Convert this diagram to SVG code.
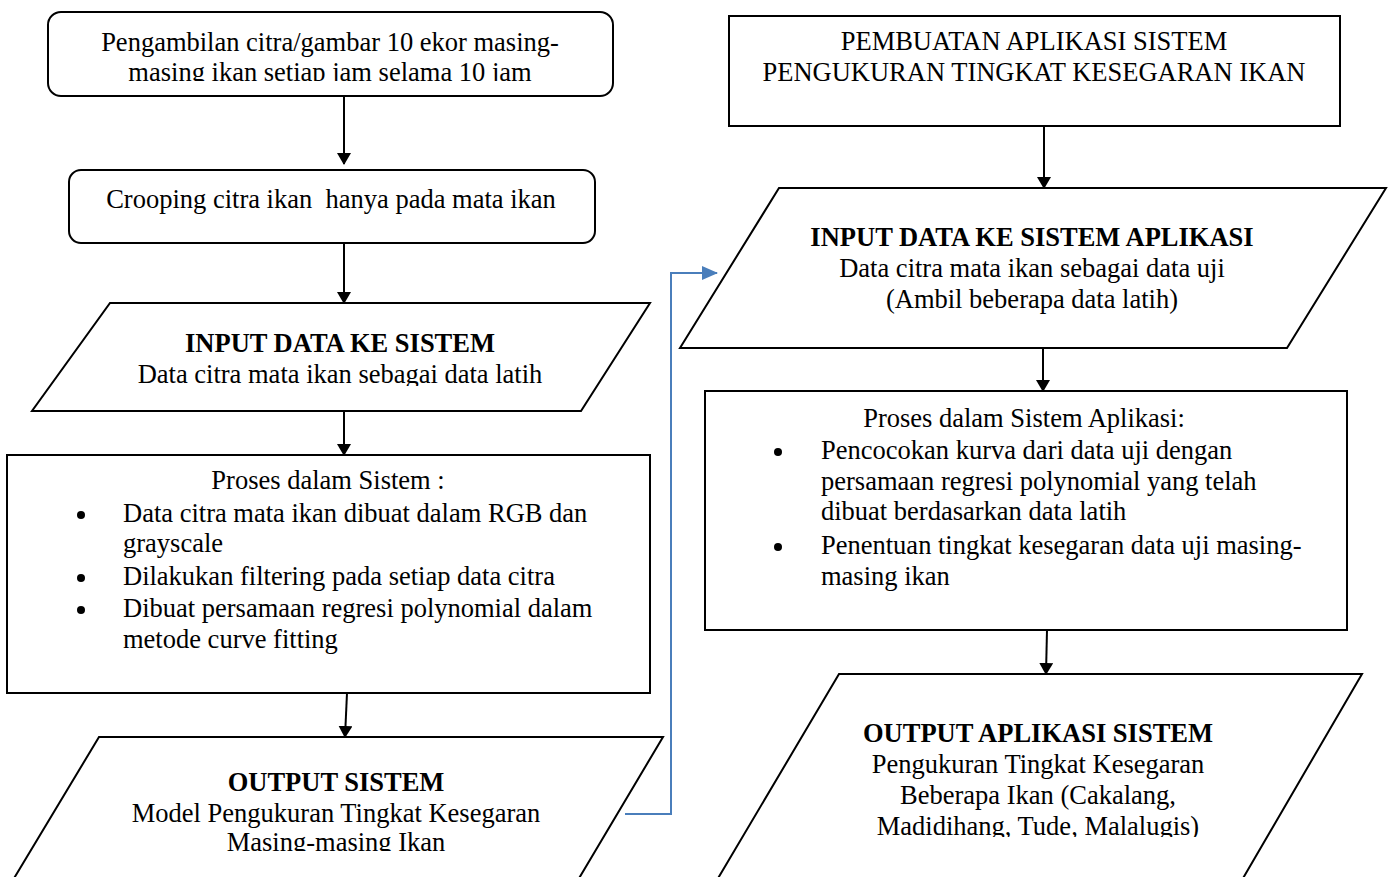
<svg xmlns="http://www.w3.org/2000/svg" width="1392" height="877" viewBox="0 0 1392 877">
<style>
.s{fill:#fff;stroke:#000;stroke-width:2}
.t{font-family:"Liberation Serif","Times New Roman",serif;font-size:26.5px;fill:#000}
.c{text-anchor:middle}
.b{font-weight:bold}
.ln{stroke:#000;stroke-width:2;fill:none}
.bl{stroke:#4a7ebb;stroke-width:2;fill:none}
</style>
<defs>
<marker id="ah" markerWidth="12" markerHeight="14" refX="11" refY="7" orient="auto" markerUnits="userSpaceOnUse"><path d="M0,0 L12,7 L0,14 Z" fill="#000"/></marker>
<marker id="ahb" markerWidth="16" markerHeight="14" refX="15" refY="7" orient="auto" markerUnits="userSpaceOnUse"><path d="M0,0 L16,7 L0,14 Z" fill="#4a7ebb"/></marker>
<clipPath id="c1"><rect x="0" y="0" width="1392" height="81"/></clipPath>
<clipPath id="c3"><rect x="0" y="0" width="1392" height="386"/></clipPath>
<clipPath id="c5"><rect x="0" y="0" width="1392" height="851"/></clipPath>
<clipPath id="cr4"><rect x="0" y="0" width="1392" height="837"/></clipPath>
</defs>
<g id="connectors">
<line class="ln" x1="344" y1="96" x2="344" y2="164" marker-end="url(#ah)"/>
<line class="ln" x1="344" y1="243" x2="344" y2="303" marker-end="url(#ah)"/>
<line class="ln" x1="344" y1="411" x2="344" y2="455" marker-end="url(#ah)"/>
<line class="ln" x1="347" y1="693" x2="345" y2="737" marker-end="url(#ah)"/>
<polyline class="bl" points="625,814 671,814 671,273 717,273" marker-end="url(#ahb)"/>
<line class="ln" x1="1044" y1="126" x2="1044" y2="188" marker-end="url(#ah)"/>
<line class="ln" x1="1043" y1="348" x2="1043" y2="391" marker-end="url(#ah)"/>
<line class="ln" x1="1047" y1="630" x2="1046" y2="674" marker-end="url(#ah)"/>
</g>
<g id="n1">
<rect class="s" x="48" y="12" width="565" height="84" rx="13"/>
<g clip-path="url(#c1)">
<text class="t c" x="330" y="51">Pengambilan citra/gambar 10 ekor masing-</text>
<text class="t c" x="330" y="81">masing ikan setiap jam selama 10 jam</text>
</g>
</g>
<g id="n2">
<rect class="s" x="69" y="170" width="526" height="73" rx="12"/>
<text class="t c" x="331" y="208" style="white-space:pre">Crooping citra ikan  hanya pada mata ikan</text>
</g>
<g id="n3">
<polygon class="s" points="110,303 650,303 581,411 32,411"/>
<text class="t c b" x="340" y="352">INPUT DATA KE SISTEM</text>
<g clip-path="url(#c3)"><text class="t c" x="340" y="383">Data citra mata ikan sebagai data latih</text></g>
</g>
<g id="n4">
<rect class="s" x="7" y="455" width="643" height="238"/>
<text class="t c" x="328" y="489">Proses dalam Sistem :</text>
<circle cx="81" cy="515" r="4"/>
<circle cx="81" cy="578" r="4"/>
<circle cx="81" cy="610" r="4"/>
<text class="t" x="123" y="522">Data citra mata ikan dibuat dalam RGB dan</text>
<text class="t" x="123" y="552">grayscale</text>
<text class="t" x="123" y="585">Dilakukan filtering pada setiap data citra</text>
<text class="t" x="123" y="617">Dibuat persamaan regresi polynomial dalam</text>
<text class="t" x="123" y="648">metode curve fitting</text>
</g>
<g id="n5">
<polygon class="s" points="99,737 663,737 578,880 13,880"/>
<text class="t c b" x="336" y="791">OUTPUT SISTEM</text>
<text class="t c" x="336" y="822">Model Pengukuran Tingkat Kesegaran</text>
<g clip-path="url(#c5)"><text class="t c" x="336" y="851">Masing-masing Ikan</text></g>
</g>
<g id="r1">
<rect class="s" x="729" y="16" width="611" height="110"/>
<text class="t c" x="1034" y="50">PEMBUATAN APLIKASI SISTEM</text>
<text class="t c" x="1034" y="81">PENGUKURAN TINGKAT KESEGARAN IKAN</text>
</g>
<g id="r2">
<polygon class="s" points="779,188 1386,188 1287,348 680,348"/>
<text class="t c b" x="1032" y="246">INPUT DATA KE SISTEM APLIKASI</text>
<text class="t c" x="1032" y="277">Data citra mata ikan sebagai data uji</text>
<text class="t c" x="1032" y="308">(Ambil beberapa data latih)</text>
</g>
<g id="r3">
<rect class="s" x="705" y="391" width="642" height="239"/>
<text class="t c" x="1024" y="427">Proses dalam Sistem Aplikasi:</text>
<circle cx="778" cy="452" r="4"/>
<circle cx="778" cy="547" r="4"/>
<text class="t" x="821" y="459">Pencocokan kurva dari data uji dengan</text>
<text class="t" x="821" y="490">persamaan regresi polynomial yang telah</text>
<text class="t" x="821" y="520">dibuat berdasarkan data latih</text>
<text class="t" x="821" y="554">Penentuan tingkat kesegaran data uji masing-</text>
<text class="t" x="821" y="585">masing ikan</text>
</g>
<g id="r4">
<polygon class="s" points="839,674 1362,674 1242,880 717,880"/>
<text class="t c b" x="1038" y="742">OUTPUT APLIKASI SISTEM</text>
<text class="t c" x="1038" y="773">Pengukuran Tingkat Kesegaran</text>
<text class="t c" x="1038" y="804">Beberapa Ikan (Cakalang,</text>
<g clip-path="url(#cr4)"><text class="t c" x="1038" y="835">Madidihang, Tude, Malalugis)</text></g>
</g>
</svg>
